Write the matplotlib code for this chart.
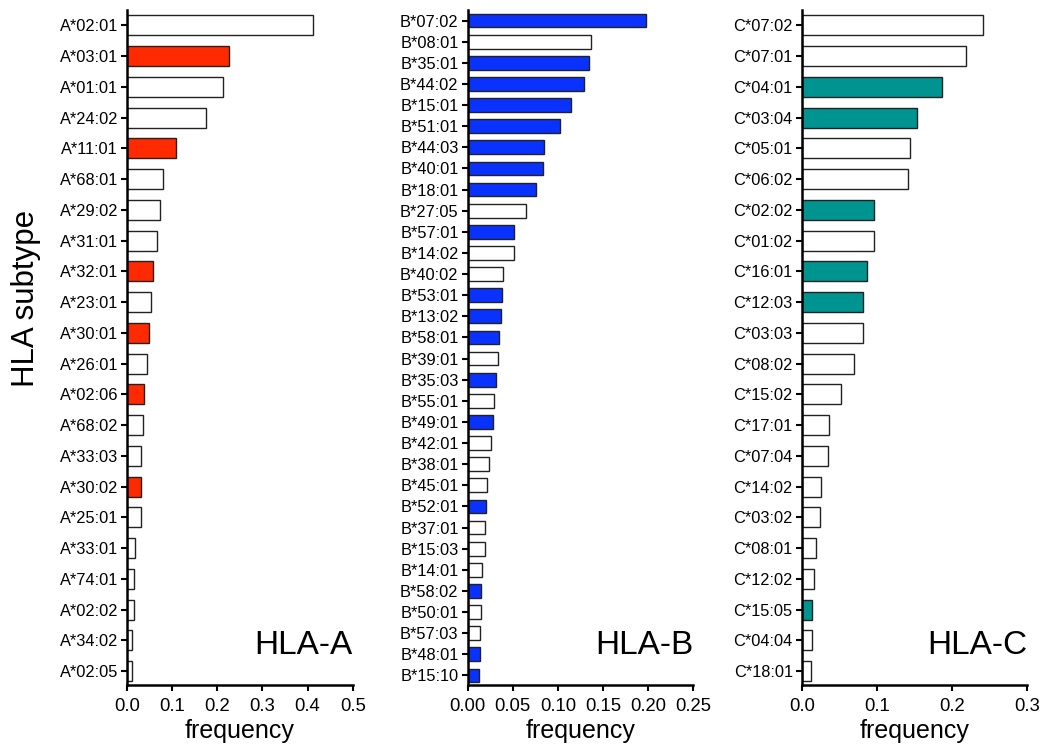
import numpy as np
import matplotlib.pyplot as plt

plt.rcParams['font.family'] = ['Liberation Sans', 'DejaVu Sans']

# HLA-A
a_labels = ['A*02:01', 'A*03:01', 'A*01:01', 'A*24:02', 'A*11:01', 'A*68:01', 'A*29:02',
            'A*31:01', 'A*32:01', 'A*23:01', 'A*30:01', 'A*26:01', 'A*02:06', 'A*68:02',
            'A*33:03', 'A*30:02', 'A*25:01', 'A*33:01', 'A*74:01', 'A*02:02', 'A*34:02', 'A*02:05']
a_freq = [0.412, 0.226, 0.212, 0.174, 0.109, 0.080, 0.074, 0.066, 0.057, 0.053, 0.049,
          0.045, 0.038, 0.035, 0.030, 0.030, 0.030, 0.018, 0.016, 0.015, 0.010, 0.010]
a_hl = ['A*03:01', 'A*11:01', 'A*32:01', 'A*30:01', 'A*02:06', 'A*30:02']

# HLA-B
b_labels = ['B*07:02', 'B*08:01', 'B*35:01', 'B*44:02', 'B*15:01', 'B*51:01', 'B*44:03',
            'B*40:01', 'B*18:01', 'B*27:05', 'B*57:01', 'B*14:02', 'B*40:02', 'B*53:01',
            'B*13:02', 'B*58:01', 'B*39:01', 'B*35:03', 'B*55:01', 'B*49:01', 'B*42:01',
            'B*38:01', 'B*45:01', 'B*52:01', 'B*37:01', 'B*15:03', 'B*14:01', 'B*58:02',
            'B*50:01', 'B*57:03', 'B*48:01', 'B*15:10']
b_freq = [0.1975, 0.1366, 0.134, 0.1285, 0.1148, 0.1019, 0.0842, 0.0831, 0.0753, 0.0643,
          0.051, 0.051, 0.0388, 0.0377, 0.037, 0.0344, 0.0336, 0.0314, 0.0295, 0.0284,
          0.0258, 0.024, 0.0218, 0.0199, 0.0196, 0.0188, 0.0155, 0.0148, 0.0144, 0.0137,
          0.0137, 0.0129]
b_hl = ['B*07:02', 'B*35:01', 'B*44:02', 'B*15:01', 'B*51:01', 'B*44:03', 'B*40:01',
        'B*18:01', 'B*57:01', 'B*53:01', 'B*13:02', 'B*58:01', 'B*35:03', 'B*49:01',
        'B*52:01', 'B*58:02', 'B*48:01', 'B*15:10']

# HLA-C
c_labels = ['C*07:02', 'C*07:01', 'C*04:01', 'C*03:04', 'C*05:01', 'C*06:02', 'C*02:02',
            'C*01:02', 'C*16:01', 'C*12:03', 'C*03:03', 'C*08:02', 'C*15:02', 'C*17:01',
            'C*07:04', 'C*14:02', 'C*03:02', 'C*08:01', 'C*12:02', 'C*15:05', 'C*04:04', 'C*18:01']
c_freq = [0.241, 0.218, 0.1867, 0.1527, 0.1442, 0.1416, 0.0964, 0.0964, 0.0872, 0.081,
          0.081, 0.069, 0.0522, 0.0363, 0.035, 0.0261, 0.0248, 0.0186, 0.0168, 0.0142,
          0.0142, 0.013]
c_hl = ['C*04:01', 'C*03:04', 'C*02:02', 'C*16:01', 'C*12:03', 'C*15:05']

panels = [
    (a_labels, a_freq, a_hl, '#ff2a00', 'HLA-A', 0.5, np.arange(0, 0.51, 0.1), '%.1f', 0.1219),
    (b_labels, b_freq, b_hl, '#0a32ff', 'HLA-B', 0.25, np.arange(0, 0.251, 0.05), '%.2f', 0.4488),
    (c_labels, c_freq, c_hl, '#009490', 'HLA-C', 0.3, np.arange(0, 0.31, 0.1), '%.1f', 0.7694),
]

fig = plt.figure(figsize=(10.42, 7.47), dpi=100)

for labels, freq, hl, col, name, xmax, ticks, fmt, left in panels:
    ax = fig.add_axes([left, 0.083, 0.2166, 0.9036])
    n = len(labels)
    y = np.arange(n)
    colors = [col if l in hl else 'white' for l in labels]
    ax.barh(y, freq, height=0.65, color=colors, edgecolor='#222222', linewidth=1.0)
    ax.set_ylim(n - 0.55, -0.5)
    ax.set_xlim(0, xmax)
    ax.set_yticks(y)
    ax.set_yticklabels(labels, fontsize=11.8)
    ax.set_xticks(ticks)
    ax.set_xticklabels([fmt % t for t in ticks], fontsize=13.3)
    ax.spines['top'].set_visible(False)
    ax.spines['right'].set_visible(False)
    ax.spines['left'].set_linewidth(1.8)
    ax.spines['bottom'].set_linewidth(1.8)
    ax.tick_params(axis='both', direction='out', length=4.5, width=1.5, pad=2)
    ax.tick_params(axis='x', pad=5)
    ax.set_xlabel('frequency', fontsize=18, labelpad=3)
    ax.text(1.0, 0.035, name, transform=ax.transAxes, ha='right', va='bottom', fontsize=24)

fig.text(26 / 1042, 1 - 298 / 747, 'HLA subtype', rotation=90, ha='center', va='center', fontsize=22.5)

fig.savefig('out.png', dpi=100)
